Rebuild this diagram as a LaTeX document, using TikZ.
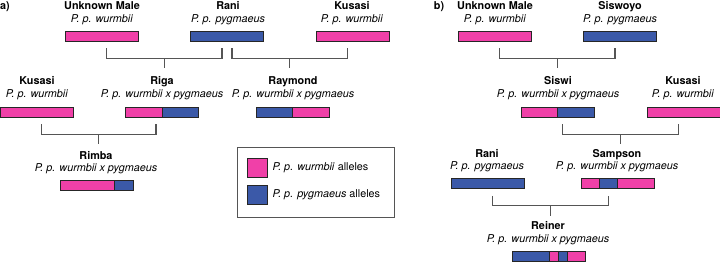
\documentclass[tikz,border=0pt]{standalone}
\usepackage{fontspec}
\setmainfont{TeX Gyre Heros}
\usetikzlibrary{calc,positioning}
\definecolor{wurm}{HTML}{F040A8}
\definecolor{pygm}{HTML}{3B59A8}
\definecolor{linea}{HTML}{555555}
\begin{document}
\begin{tikzpicture}[x=1pt,y=-1pt,
    every node/.style={font=\fontsize{10.8}{12.6}\selectfont},
    lbl/.style={align=center, inner sep=0pt},
    barra/.style={draw=black!85, line width=0.7pt, minimum width=73pt, minimum height=10pt, inner sep=0pt,
      path picture={\foreach \a/\b/\c in {#1}
        \filldraw[fill=\c, draw=black!85, line width=0.7pt]
          ($(path picture bounding box.south west)!\a!(path picture bounding box.south east)$)
          rectangle ($(path picture bounding box.north west)!\b!(path picture bounding box.north east)$);}},
    ramo/.style={draw=linea, line width=1.1pt},
    campione/.style={draw=black!85, line width=0.7pt, minimum width=20pt, minimum height=19pt, inner sep=0pt}]
  \useasboundingbox (0,0) rectangle (720,263);

  % pannello a
  \node[inner sep=0pt] (pa) at (5,7) {\textbf{a)}};
  \node[lbl] (nUMa) at (102,13) {\textbf{Unknown Male}\\\textit{P. p. wurmbii}};
  \node[barra={0/1/wurm}] (bUMa) at (101.5,36) {};
  \node[lbl] (nRani) at (228,13) {\textbf{Rani}\\\textit{P. p. pygmaeus}};
  \node[barra={0/1/pygm}] (bRani) at (227,36) {};
  \node[lbl] (nKusA) at (352,13) {\textbf{Kusasi}\\\textit{P. p. wurmbii}};
  \node[barra={0/1/wurm}] (bKusA) at (352.5,36) {};
  \node[lbl] (nKusB) at (37,88) {\textbf{Kusasi}\\\textit{P. p. wurmbii}};
  \node[barra={0/1/wurm}] (bKusB) at (36.5,112) {};
  \node[lbl] (nRiga) at (162,88) {\textbf{Riga}\\\textit{P. p. wurmbii x pygmaeus}};
  \node[barra={0/.5/wurm,.5/1/pygm}] (bRiga) at (162,112) {};
  \node[lbl] (nRaymond) at (293,88) {\textbf{Raymond}\\\textit{P. p. wurmbii x pygmaeus}};
  \node[barra={0/.5/pygm,.5/1/wurm}] (bRaymond) at (292.5,112) {};
  \node[lbl] (nRimba) at (96,162.5) {\textbf{Rimba}\\\textit{P. p. wurmbii x pygmaeus}};
  \node[barra={0/.75/wurm,.75/1/pygm}] (bRimba) at (96.5,185.5) {};

  % legenda
  \node[draw=linea, line width=0.8pt, minimum width=157pt, minimum height=70pt] (leg) at (315.5,182) {};
  \node[campione, fill=wurm] (kW) at (257,167.5) {};
  \node[right=5pt of kW, inner sep=0pt] (tW) {\textit{P. p. wurmbii} alleles};
  \node[campione, fill=pygm] (kP) at (257,194.5) {};
  \node[right=5pt of kP, inner sep=0pt] (tP) {\textit{P. p. pygmaeus} alleles};

  % pannello b
  \node[inner sep=0pt] (pb) at (439,7) {\textbf{b)}};
  \node[lbl] (nUMb) at (495,13) {\textbf{Unknown Male}\\\textit{P. p. wurmbii}};
  \node[barra={0/1/wurm}] (bUMb) at (494.5,36) {};
  \node[lbl] (nSiswoyo) at (620,13) {\textbf{Siswoyo}\\\textit{P. p. pygmaeus}};
  \node[barra={0/1/pygm}] (bSiswoyo) at (620,36) {};
  \node[lbl] (nSiswi) at (558,88) {\textbf{Siswi}\\\textit{P. p. wurmbii x pygmaeus}};
  \node[barra={0/.5/wurm,.5/1/pygm}] (bSiswi) at (557.5,112) {};
  \node[lbl] (nKusC) at (683,88) {\textbf{Kusasi}\\\textit{P. p. wurmbii}};
  \node[barra={0/1/wurm}] (bKusC) at (683.5,112) {};
  \node[lbl] (nRaniB) at (487,160.5) {\textbf{Rani}\\\textit{P. p. pygmaeus}};
  \node[barra={0/1/pygm}] (bRaniB) at (487.5,183.5) {};
  \node[lbl] (nSampson) at (617,160.5) {\textbf{Sampson}\\\textit{P. p. wurmbii x pygmaeus}};
  \node[barra={0/.25/wurm,.25/.5/pygm,.5/1/wurm}] (bSampson) at (617.5,183.5) {};
  \node[lbl] (nReiner) at (548,233) {\textbf{Reiner}\\\textit{P. p. wurmbii x pygmaeus}};
  \node[barra={0/.5/pygm,.5/.625/wurm,.625/.75/pygm,.75/1/wurm}] (bReiner) at (549,256.5) {};

  % incroci
  \foreach \l/\r/\d in {bUMa/bRani/5, bRani/bKusA/5, bKusB/bRiga/6, bUMb/bSiswoyo/5, bSiswi/bKusC/5, bRaniB/bSampson/9}{
    \draw[ramo] ([xshift=5pt,yshift=-7pt]\l.south) coordinate (p) -- ++(0,10)
      -| ([xshift=-\d pt,yshift=-7pt]\r.south) coordinate (q);
    \draw[ramo] ($(p)!.5!(q)+(0,10)$) -- ++(0,10);
  }
\end{tikzpicture}
\end{document}
